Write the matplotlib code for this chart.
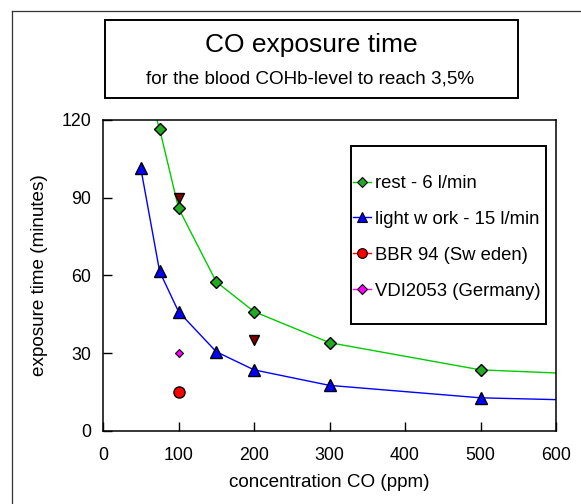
import matplotlib
matplotlib.use('Agg')
import matplotlib.pyplot as plt
from matplotlib.lines import Line2D
from matplotlib.patches import Rectangle

# ---- data ----
rest_x = [75, 100, 150, 200, 300, 500]
rest_y = [116.5, 86, 57.5, 46, 34, 23.5]
work_x = [50, 75, 100, 150, 200, 300, 500]
work_y = [101.5, 61.5, 46, 30.5, 23.5, 17.5, 12.7]
rest_curve_x = [70, 75, 100, 150, 200, 300, 500, 600]
rest_curve_y = [121.5, 116.5, 86, 57.5, 46, 34, 23.5, 22.3]
work_curve_x = [50, 75, 100, 150, 200, 300, 500, 600]
work_curve_y = [101.5, 61.5, 46, 30.5, 23.5, 17.5, 12.7, 12.0]
bbr_x = [100]
bbr_y = [15]
vdi_x = [100]
vdi_y = [30]
other_x = [100, 200]
other_y = [90, 35]

labels = ["rest - 6 l/min", "light w ork - 15 l/min", "BBR 94 (Sw eden)", "VDI2053 (Germany)"]
x_ticks = [0, 100, 200, 300, 400, 500, 600]
y_ticks = [0, 30, 60, 90, 120]
title = "CO exposure time"
subtitle = "for the blood COHb-level to reach 3,5%"
xlabel = "concentration CO (ppm)"
ylabel = "exposure time (minutes)"

plt.rcParams['font.family'] = ['Liberation Sans', 'DejaVu Sans']

W, H = 581, 504
fig = plt.figure(figsize=(W / 100, H / 100), dpi=100)

def fx(px):
    return px / W

def fy(py):
    return 1 - py / H

ax = fig.add_axes([fx(103), fy(430.7), fx(556) - fx(103), fy(120) - fy(430.7)])

green_line = '#00cc00'
green_fill = '#22aa22'
blue = '#0000ff'

ax.plot(rest_curve_x, rest_curve_y, color=green_line, lw=1.0, zorder=2)
ax.plot(work_curve_x, work_curve_y, color=blue, lw=1.0, zorder=2)
ax.plot(other_x, other_y, linestyle='none', marker='v', ms=7.5, mfc='#800000',
        mec='black', mew=1.0, zorder=3)
ax.plot(rest_x, rest_y, linestyle='none', marker='D', ms=6, mfc=green_fill,
        mec='black', mew=1.0, zorder=4)
ax.plot(work_x, work_y, linestyle='none', marker='^', ms=8, mfc=blue,
        mec='black', mew=1.0, zorder=4)
ax.plot(bbr_x, bbr_y, linestyle='none', marker='o', ms=8, mfc='#ff0000',
        mec='black', mew=1.0, zorder=4)
ax.plot(vdi_x, vdi_y, linestyle='none', marker='D', ms=4.3, mfc='#ff00ff',
        mec='black', mew=0.8, zorder=4)

ax.set_xlim(0, 600)
ax.set_ylim(0, 120)
ax.set_xticks(x_ticks)
ax.set_yticks(y_ticks)
ax.tick_params(axis='both', direction='in', length=6.5, width=1.0, labelsize=12.8,
               colors='black')
ax.tick_params(axis='x', pad=11.5)
ax.tick_params(axis='y', pad=8.5)
for s in ax.spines.values():
    s.set_linewidth(1.1)
    s.set_color('black')

# axis labels
fig.text(fx(329.5), fy(486.7), xlabel, ha='center', va='baseline', fontsize=13.6)
fig.text(fx(40), fy(275), ylabel, ha='center', va='center', rotation=90, fontsize=13.6)

# legend
handles = [
    Line2D([], [], color=green_line, lw=1.0, marker='D', ms=4.7, mfc=green_fill, mec='black', mew=0.8),
    Line2D([], [], color=blue, lw=1.0, marker='^', ms=7, mfc=blue, mec='black', mew=0.8),
    Line2D([], [], color='#ff0000', lw=1.0, marker='o', ms=7, mfc='#ff0000', mec='black', mew=0.8),
    Line2D([], [], color='#ff00ff', lw=1.0, marker='D', ms=4.7, mfc='#ff00ff', mec='black', mew=0.8),
]
leg_frame = Rectangle((fx(350.7), fy(324)), fx(546) - fx(350.7), fy(145.7) - fy(324),
                      transform=fig.transFigure, facecolor='white', edgecolor='black',
                      lw=1.4, zorder=5)
fig.patches.append(leg_frame)
leg = fig.legend(handles, labels, loc='upper left', bbox_to_anchor=(fx(353), fy(175)),
                 bbox_transform=fig.transFigure, frameon=False, borderpad=0,
                 borderaxespad=0, fontsize=13.3, handlelength=0.95, handletextpad=0.22,
                 labelspacing=1.02)
leg.set_zorder(6)

# title box
tbox = Rectangle((fx(105), fy(98)), fx(518) - fx(105), fy(20) - fy(98),
                 transform=fig.transFigure, facecolor='white', edgecolor='black', lw=1.4)
fig.patches.append(tbox)
fig.text(fx(311), fy(51.7), title, ha='center', va='baseline', fontsize=19)
fig.text(fx(310.5), fy(83), subtitle, ha='center', va='baseline', fontsize=13.6)

# outer frame (top and left edges only; the rest lies outside the picture)
fig.add_artist(Line2D([fx(12), 1.0], [fy(11), fy(11)], transform=fig.transFigure,
                      color='#333333', lw=0.9))
fig.add_artist(Line2D([fx(12), fx(12)], [0.0, fy(11)], transform=fig.transFigure,
                      color='#333333', lw=0.9))

fig.savefig('out.png', dpi=100)
